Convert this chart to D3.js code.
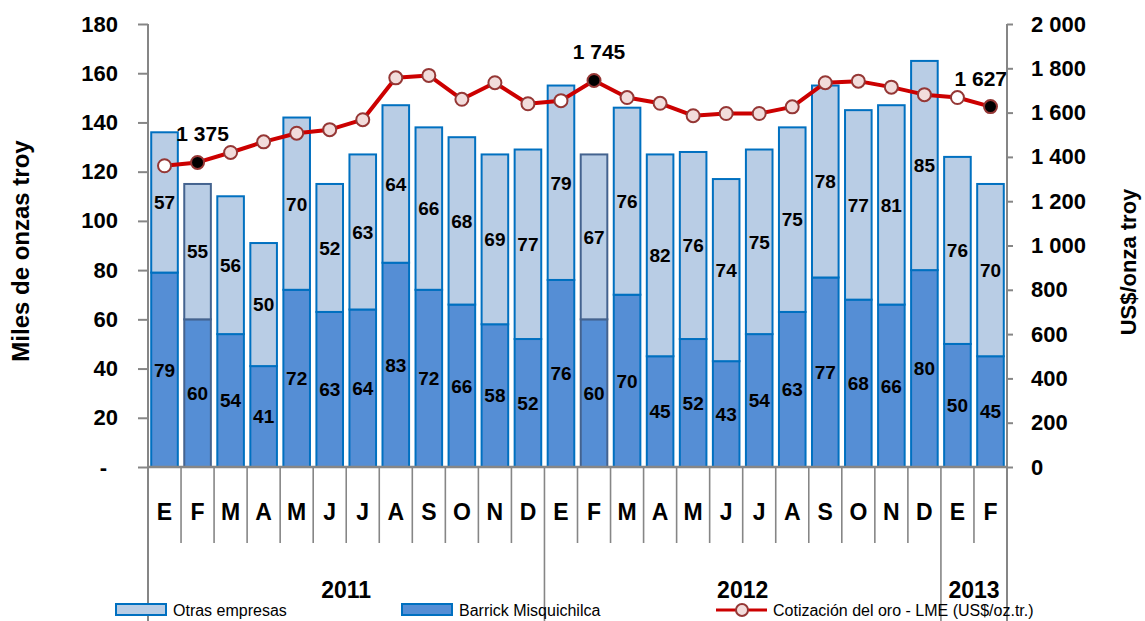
<!DOCTYPE html>
<html>
<head>
<meta charset="utf-8">
<script src="https://cdn.jsdelivr.net/npm/d3@7"></script>
<style>
  body { margin: 0; background: #fff; }
  svg { display: block; font-family: "Liberation Sans", Arial, sans-serif; }
  .lbl { font-weight: bold; fill: #000; }
</style>
</head>
<body>
<div id="graph"></div>
<script>
// Datos (miles de onzas troy y US$/oz.tr.)
const months = ['E','F','M','A','M','J','J','A','S','O','N','D',
                'E','F','M','A','M','J','J','A','S','O','N','D',
                'E','F'];
const yearOf = [2011,2011,2011,2011,2011,2011,2011,2011,2011,2011,2011,2011,
                2012,2012,2012,2012,2012,2012,2012,2012,2012,2012,2012,2012,
                2013,2013];
const years = [2011, 2012, 2013];
const barrick = [79,60,54,41,72,63,64,83,72,66,58,52,
                 76,60,70,45,52,43,54,63,77,68,66,80,
                 50,45];
const otras = [57,55,56,50,70,52,63,64,66,68,69,77,
               79,67,76,82,76,74,75,75,78,77,81,85,
               76,70];
const gold = [1360,1375,1420,1468,1507,1523,1568,1757,1768,1660,1735,1640,
              1654,1745,1668,1642,1586,1596,1596,1626,1735,1742,1715,1681,
              1668,1627];
const highlightedBars = [1, 13];
const leftTicks = [0,20,40,60,80,100,120,140,160,180];
const rightTicks = [0,200,400,600,800,1000,1200,1400,1600,1800,2000];
const seriesNames = ['Otras empresas', 'Barrick Misquichilca', 'Cotización del oro - LME (US$/oz.tr.)'];

//---------------------------------------------------------------------------------------

const width = 1145;
const height = 621;
const mLeft = 148, mRight = 1007, mTop = 24, base = 467;

const svg = d3.select('#graph')
  .append('svg')
  .attr('width', width)
  .attr('height', height);

const colOtras = '#b9cde5';
const colBarrick = '#558ed5';
const colEdge = '#0070c0';
const colAxis = '#868686';
const colLine = '#cc0000';

// Escalas
const x = d3.scaleBand()
  .domain(d3.range(months.length))
  .range([mLeft, mRight]);
const barW = x.step() * 0.805;
const yL = d3.scaleLinear().domain([0, 180]).range([base, mTop]);
const yR = d3.scaleLinear().domain([0, 2000]).range([base, mTop]);

const fmtSp = v => d3.format(',d')(v).replace(',', ' ');

//---------------------------------------------------------------------------------------
// Barras apiladas

const stack = months.map((m, i) => ({ i, b: barrick[i], o: otras[i] }));

const gBars = svg.append('g');

gBars.selectAll('rect.barrick')
  .data(stack)
  .join('rect')
  .attr('class', 'barrick')
  .attr('x', d => x(d.i) + (x.step() - barW) / 2)
  .attr('width', barW)
  .attr('y', d => yL(d.b))
  .attr('height', d => yL(0) - yL(d.b))
  .attr('fill', colBarrick)
  .attr('stroke', d => highlightedBars.includes(d.i) ? '#44638f' : colEdge)
  .attr('stroke-width', 2);

gBars.selectAll('rect.otras')
  .data(stack)
  .join('rect')
  .attr('class', 'otras')
  .attr('x', d => x(d.i) + (x.step() - barW) / 2)
  .attr('width', barW)
  .attr('y', d => yL(d.b + d.o))
  .attr('height', d => yL(d.b) - yL(d.b + d.o))
  .attr('fill', colOtras)
  .attr('stroke', d => highlightedBars.includes(d.i) ? '#44638f' : colEdge)
  .attr('stroke-width', 2);

// Etiquetas de barras
const gBarLbl = svg.append('g').attr('class', 'lbl').attr('font-size', 19).attr('text-anchor', 'middle');

gBarLbl.selectAll('text.b')
  .data(stack)
  .join('text')
  .attr('class', 'b')
  .attr('x', d => x(d.i) + x.step() / 2)
  .attr('y', d => yL(d.b / 2))
  .attr('dy', '0.36em')
  .text(d => d.b);

gBarLbl.selectAll('text.o')
  .data(stack)
  .join('text')
  .attr('class', 'o')
  .attr('x', d => x(d.i) + x.step() / 2)
  .attr('y', d => yL(d.b + d.o / 2))
  .attr('dy', '0.36em')
  .text(d => d.o);

//---------------------------------------------------------------------------------------
// Ejes

const axisL = svg.append('g')
  .attr('transform', `translate(${mLeft},0)`)
  .call(d3.axisLeft(yL).tickValues(leftTicks).tickSize(10).tickPadding(20)
    .tickFormat(v => v === 0 ? '-\u2002' : v));
axisL.select('.domain').remove();
axisL.selectAll('line').attr('stroke', colAxis).attr('stroke-width', 2);
axisL.selectAll('text').attr('class', 'lbl').attr('font-size', 22);
axisL.attr('font-family', null).attr('font-size', null);

const axisR = svg.append('g')
  .attr('transform', `translate(${mRight},0)`)
  .call(d3.axisRight(yR).tickValues(rightTicks).tickSize(6).tickPadding(18).tickFormat(fmtSp));
axisR.select('.domain').remove();
axisR.selectAll('line').attr('stroke', colAxis).attr('stroke-width', 2);
axisR.selectAll('text').attr('class', 'lbl').attr('font-size', 22);
axisR.attr('font-family', null).attr('font-size', null);

// líneas verticales de ejes y base
const gGrid = svg.append('g').attr('stroke', colAxis);
gGrid.append('line').attr('x1', mLeft).attr('x2', mLeft).attr('y1', mTop).attr('y2', height).attr('stroke-width', 2);
gGrid.append('line').attr('x1', mRight).attr('x2', mRight).attr('y1', mTop).attr('y2', height).attr('stroke-width', 2);
gGrid.append('line').attr('x1', mLeft).attr('x2', mRight).attr('y1', base).attr('y2', base).attr('stroke-width', 2.5);

const seps = d3.range(1, months.length);
gGrid.selectAll('line.sep')
  .data(seps)
  .join('line')
  .attr('class', 'sep')
  .attr('x1', i => x(i)).attr('x2', i => x(i))
  .attr('y1', base)
  .attr('y2', i => yearOf[i] !== yearOf[i - 1] ? height : 543)
  .attr('stroke-width', 1.6);

// Meses
svg.append('g').attr('class', 'lbl').attr('font-size', 23).attr('text-anchor', 'middle')
  .selectAll('text')
  .data(months)
  .join('text')
  .attr('x', (m, i) => x(i) + x.step() / 2)
  .attr('y', 520)
  .text(m => m);

// Años
svg.append('g').attr('class', 'lbl').attr('font-size', 23).attr('text-anchor', 'middle')
  .selectAll('text')
  .data(years)
  .join('text')
  .attr('x', yr => {
    const idx = d3.range(months.length).filter(i => yearOf[i] === yr);
    return (x(idx[0]) + x(idx[idx.length - 1]) + x.step()) / 2;
  })
  .attr('y', 598)
  .text(yr => yr);

// Títulos de ejes
svg.append('text').attr('class', 'lbl').attr('font-size', 24).attr('text-anchor', 'middle')
  .attr('transform', `translate(29,251) rotate(-90)`)
  .text('Miles de onzas troy');

svg.append('text').attr('class', 'lbl').attr('font-size', 22).attr('text-anchor', 'middle')
  .attr('transform', `translate(1136,262) rotate(-90)`)
  .text('US$/onza troy');

//---------------------------------------------------------------------------------------
// Cotización del oro

const linePts = gold.map((v, i) => ({ i, v, m: months[i] }));
const px = d => x(d.i) + x.step() / 2;

svg.append('path')
  .datum(linePts)
  .attr('fill', 'none')
  .attr('stroke', colLine)
  .attr('stroke-width', 4)
  .attr('stroke-linejoin', 'round')
  .attr('d', d3.line().x(px).y(d => yR(d.v)));

svg.append('g')
  .selectAll('circle')
  .data(linePts)
  .join('circle')
  .attr('cx', px)
  .attr('cy', d => yR(d.v))
  .attr('r', 6.5)
  .attr('fill', d => d.m === 'E' ? '#ffffff' : d.m === 'F' ? '#000000' : '#f2dcdb')
  .attr('stroke', '#953735')
  .attr('stroke-width', 2);

// etiquetas de febrero (se corren para no pisar el eje derecho)
svg.append('g').attr('class', 'lbl').attr('font-size', 21)
  .selectAll('text')
  .data(linePts.filter(d => d.m === 'F'))
  .join('text')
  .attr('text-anchor', d => px(d) + 31 > mRight ? 'end' : 'middle')
  .attr('x', d => px(d) + 31 > mRight ? mRight : px(d) + 5)
  .attr('y', d => yR(d.v) - 21)
  .text(d => fmtSp(d.v));

//---------------------------------------------------------------------------------------
// Leyenda

const gLeg = svg.append('g').attr('font-size', 16);

const legItems = [
  { name: seriesNames[0], type: 'bar', fill: colOtras, x: 116 },
  { name: seriesNames[1], type: 'bar', fill: colBarrick, x: 402 },
  { name: seriesNames[2], type: 'line', x: 716 }
];

legItems.forEach(it => {
  if (it.type === 'bar') {
    gLeg.append('rect')
      .attr('x', it.x).attr('y', 604).attr('width', 50).attr('height', 11)
      .attr('fill', it.fill).attr('stroke', colEdge).attr('stroke-width', 2);
  } else {
    gLeg.append('line')
      .attr('x1', it.x).attr('x2', it.x + 51).attr('y1', 610).attr('y2', 610)
      .attr('stroke', colLine).attr('stroke-width', 3);
    gLeg.append('circle')
      .attr('cx', it.x + 26).attr('cy', 610).attr('r', 6)
      .attr('fill', '#f2dcdb').attr('stroke', '#953735').attr('stroke-width', 2);
  }
  gLeg.append('text')
    .attr('x', it.x + 57)
    .attr('y', 616)
    .text(it.name);
});
</script>
</body>
</html>
